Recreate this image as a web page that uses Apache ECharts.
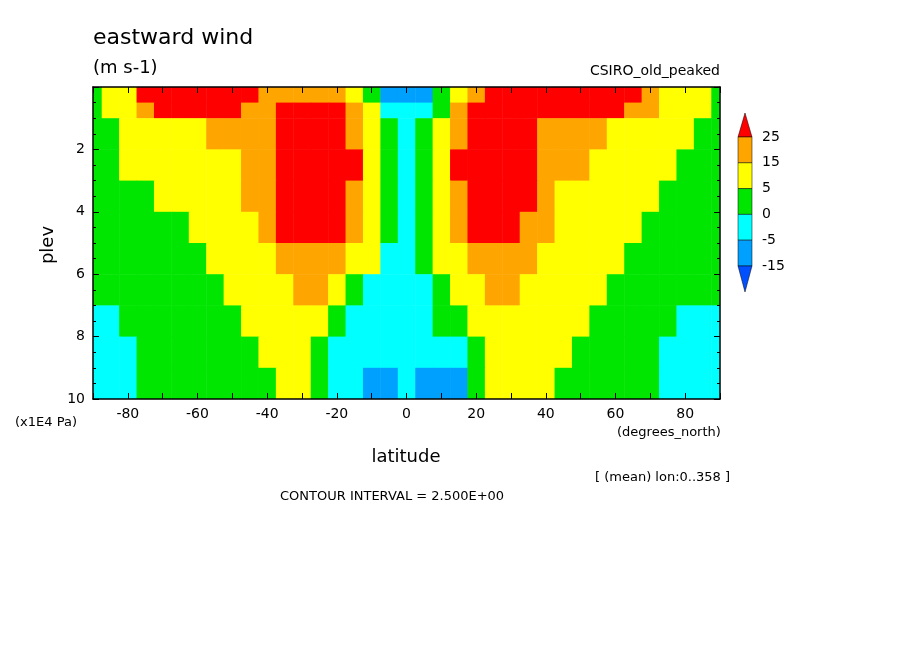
<!DOCTYPE html>
<html>
<head>
<meta charset="utf-8">
<script src="https://cdn.jsdelivr.net/npm/echarts@6/dist/echarts.min.js"></script>
<style>
  html, body { margin: 0; padding: 0; background: #fff; }
  #chart { width: 904px; height: 654px; }
</style>
</head>
<body>
<div id="chart"></div>
<script>
// latitude centres of the cells (degrees_north)
var lats = [-90,-85,-80,-75,-70,-65,-60,-55,-50,-45,-40,-35,-30,-25,-20,-15,-10,-5,0,
            5,10,15,20,25,30,35,40,45,50,55,60,65,70,75,80,85,90];
// pressure bands (x1E4 Pa), top and bottom of each row
var pTop = [0, 0.5, 1, 2, 3, 4, 5, 6, 7, 8, 9];
var pBot = [0.5, 1, 2, 3, 4, 5, 6, 7, 8, 9, 10];
// eastward wind (m s-1), one row per band
var u0 = [3,6,14,26,34,38,38,36,32,26,20,20,22,20,15,8,2,-6,-12,-8,0,8,18,27,30,30,28,30,32,32,30,27,18,12,8,5,3];
var u1 = [3,5,10,18,26,30,30,29,27,22,21,27,32,33,28,16,5,-2,-5,-2,4,16,30,34,33,28,26,27,28,27,26,20,15,10,7,5,3];
var u2 = [3,4.5,6,9,11,13,14,15,17,18,22,30,38,42,36,22,10,2,-2,2,10,24,38,43,40,32,24,21,19,17,14,12,10,8,6,4,3];
var u3 = [2,3.5,5,7,8,9,10,12,13,16,22,32,40,43,38,26,10,3,-1,3,10,26,40,44,40,32,22,18,15.5,13,11,9,7.5,6,4.5,3.5,2];
var u4 = [1.5,2.5,3.5,4.5,5.5,7,8,10,12,15,20,30,37,38,34,24,9,2,-1.5,2,9,24,36,39,36,28,19,14,12,10,8,7,5.2,4.5,3.5,2.5,1.5];
var u5 = [1,1.5,2,3,3.5,4.5,6,8,10,13,17,25,30,31,27,17,7,1,-1.5,1,7,18,28,31,29,23,16,12,10,8,6.5,5,4,3,2.5,2,1.5];
var u6 = [0.5,1,1.5,2,2.5,3.5,4.5,5.5,8,10,13,19,23,23,20,12,5,-0.5,-2,0.3,5,13,20,23,21,16,12,9.5,8,6.5,5,4,3,2,1.5,1,1];
var u7 = [0.5,0.8,1,1.5,2,2.5,3.5,4.5,5.5,7,9,12,15.5,16,13,3.5,-1,-1.5,-2,-1,2,8,14,16,15,11,8.5,7,6,5,4,3,2,1,0.5,0.3,0.2];
var u8 = [-1,-0.5,0.5,1,1.5,2,3,3.5,4.5,5.5,7,9,9,6,0,-1,-2.5,-3,-3,-2,0.5,2,6,8,9.5,8.5,7,6,6,4.5,3.5,2.5,1.5,0.5,-0.5,-1,-1];
var u9 = [-1.5,-1,-0.3,0.5,1,1.5,2,3,3.5,4.5,6,7,6,2,-1,-3,-4,-4,-3.5,-4,-4,-2,1,6,7,6.5,5.5,5,4,3,2,1.5,1,-0.5,-1,-1.5,-1.5];
var u10 = [-2,-1.5,-0.5,0.5,1,1.5,2,2.5,3,3.5,4.8,6,6.5,1.5,-1,-4,-7,-7,-4,-7,-8,-6,0.2,6,8,7,5,4,3,2.5,2,1.5,1,-0.5,-1,-1.5,-1.5];
var rows = [u0,u1,u2,u3,u4,u5,u6,u7,u8,u9,u10];

var xTicks = [-80,-60,-40,-20,0,20,40,60,80];
var yTicks = [2,4,6,8,10];
var levels = [25,15,5,0,-5,-15];
var colors = ['#ff0000','#ffa500','#ffff00','#00e600','#00ffff','#00a0ff','#0050ff'];

var cells = [];
rows.forEach(function (row, r) {
  row.forEach(function (v, c) {
    cells.push([lats[c], pTop[r], pBot[r], v]);
  });
});

var chart = echarts.init(document.getElementById('chart'));
var font = 'DejaVu Sans';

// colour bar on the right
var bar = [];
var bx = 738, bw = 14, by = 137, bh = 25.8;
bar.push({ type: 'polygon', shape: { points: [[bx, by], [bx + bw, by], [bx + bw / 2, by - 24]] },
  style: { fill: colors[0], stroke: '#000', lineWidth: 0.5 } });
for (var i = 0; i < 5; i++) {
  bar.push({ type: 'rect', shape: { x: bx, y: by + i * bh, width: bw, height: bh },
    style: { fill: colors[i + 1], stroke: '#000', lineWidth: 0.5 } });
}
var byEnd = by + 5 * bh;
bar.push({ type: 'polygon', shape: { points: [[bx, byEnd], [bx + bw, byEnd], [bx + bw / 2, byEnd + 26]] },
  style: { fill: colors[6], stroke: '#000', lineWidth: 0.5 } });
levels.forEach(function (l, i) {
  bar.push({ type: 'text', x: 762, y: by + i * bh, style: { text: String(l), font: '14px ' + font,
    fill: '#000', textVerticalAlign: 'middle' } });
});

function txt(x, y, s, size, align) {
  return { type: 'text', x: x, y: y, style: { text: s, font: size + 'px ' + font, fill: '#000',
    textAlign: align || 'left', textVerticalAlign: 'middle' } };
}

function xAx(pos, labels) {
  return {
    type: 'value', min: -90, max: 90, interval: 10, position: pos, z: 10,
    axisLine: { onZero: false, lineStyle: { color: '#000', width: 1.5 } },
    axisTick: { inside: true, length: 6, lineStyle: { color: '#000' } },
    axisLabel: { show: labels, color: '#000', fontSize: 14, fontFamily: font,
      formatter: function (v) { return xTicks.indexOf(v) >= 0 ? String(v) : ''; } },
    splitLine: { show: false }
  };
}
function yAx(pos, labels) {
  return {
    type: 'value', min: 0, max: 10, interval: 2, inverse: true, position: pos, z: 10,
    axisLine: { onZero: false, lineStyle: { color: '#000', width: 1.5 } },
    axisTick: { inside: true, length: 6, lineStyle: { color: '#000' } },
    minorTick: { show: true, splitNumber: 4, length: 3, lineStyle: { color: '#000' } },
    axisLabel: { show: labels, color: '#000', fontSize: 14, fontFamily: font,
      formatter: function (v) { return yTicks.indexOf(v) >= 0 ? String(v) : ''; } },
    splitLine: { show: false }
  };
}

var option = {
  animation: false,
  backgroundColor: '#fff',
  grid: { left: 93, top: 87, right: 184, bottom: 255 },
  xAxis: [xAx('bottom', true), xAx('top', false)],
  yAxis: [yAx('left', true), yAx('right', false)],
  visualMap: {
    show: false, type: 'piecewise', dimension: 3, seriesIndex: 0,
    pieces: [
      { gte: 25, color: colors[0] },
      { gte: 15, lt: 25, color: colors[1] },
      { gte: 5, lt: 15, color: colors[2] },
      { gte: 0, lt: 5, color: colors[3] },
      { gte: -5, lt: 0, color: colors[4] },
      { gte: -15, lt: -5, color: colors[5] },
      { lt: -15, color: colors[6] }
    ]
  },
  series: [{
    type: 'custom',
    clip: true,
    z: 1,
    xAxisIndex: 0, yAxisIndex: 0,
    data: cells,
    encode: { x: 0, y: [1, 2] },
    renderItem: function (params, api) {
      var lat = api.value(0);
      var x0 = Math.max(-90, lat - 2.5), x1 = Math.min(90, lat + 2.5);
      var a = api.coord([x0, api.value(1)]);
      var b = api.coord([x1, api.value(2)]);
      return { type: 'rect',
        shape: { x: Math.min(a[0], b[0]), y: Math.min(a[1], b[1]),
                 width: Math.abs(b[0] - a[0]) + 0.5, height: Math.abs(b[1] - a[1]) + 0.5 },
        style: { fill: api.visual('color') } };
    }
  }],
  graphic: [
    txt(93, 38, 'eastward wind', 22),
    txt(93, 68, '(m s-1)', 18),
    txt(720, 71, 'CSIRO_old_peaked', 14, 'right'),
    { type: 'text', x: 48, y: 245, rotation: Math.PI / 2,
      style: { text: 'plev', font: '18px ' + font, fill: '#000', textAlign: 'center', textVerticalAlign: 'middle' } },
    txt(15, 423, '(x1E4 Pa)', 13),
    txt(617, 433, '(degrees_north)', 13),
    txt(406, 457, 'latitude', 18, 'center'),
    txt(595, 478, '[ (mean) lon:0..358 ]', 13),
    txt(280, 497, 'CONTOUR INTERVAL = 2.500E+00', 13)
  ].concat(bar)
};
chart.setOption(option);
</script>
</body>
</html>
